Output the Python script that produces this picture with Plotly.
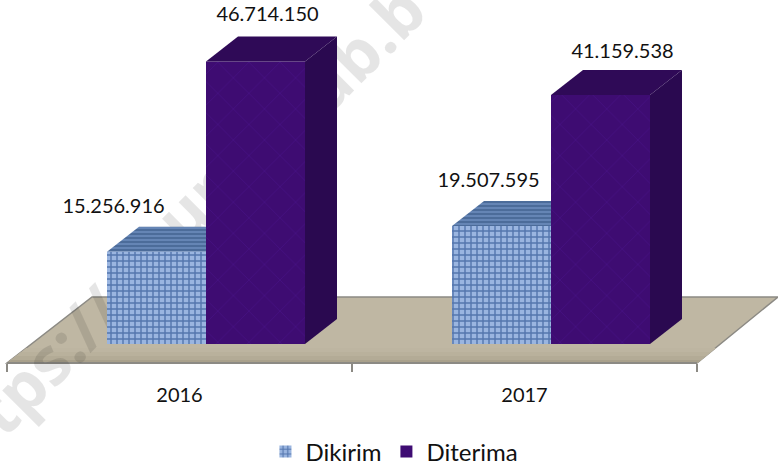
import plotly.graph_objects as go

categories = ["2016", "2017"]
dikirim = [15256916, 19507595]
diterima = [46714150, 41159538]
labels_dikirim = ["15.256.916", "19.507.595"]
labels_diterima = ["46.714.150", "41.159.538"]
watermark_bits = ["tps://r", "ur", "ab.b"]

W, H = 778, 465
PLOT_BOTTOM = 363
BASE_PX = 344
PX_PER_VALUE = 6.05e-6
X0_PX, UNIT_PX = 7, 345
DEPTH_X, DEPTH_Y = 32, 25
BAR_W = 99


def xd(px):
    return (px - X0_PX) / UNIT_PX


def yd(px):
    return (BASE_PX - px) / PX_PER_VALUE


def dx(px):
    return px / UNIT_PX


def dy(px):
    return px / PX_PER_VALUE


def px(p):
    return p / W


def py(p):
    return (PLOT_BOTTOM - p) / PLOT_BOTTOM


centers = [0.5, 1.5]
off_a = xd(107) - 0.5
off_b = xd(206) - 0.5
bw = dx(BAR_W)

fig = go.Figure()

floor_pts = [(7, 363), (697, 363), (778, 297), (92, 297)]


def path(pts):
    return "M " + " L ".join(f"{px(a)},{py(b)}" for a, b in pts) + " Z"


fig.add_shape(type="path", xref="paper", yref="paper", path=path(floor_pts), fillcolor="#BFB7A3",
              line=dict(color="#8C8A84", width=1.5), layer="below")
for top, col in [(348, "#BDB5A1"), (352, "#B9B19C"), (356, "#B3AB96"), (360, "#A9A18C")]:
    t = (363 - top) / 66 * 85
    fig.add_shape(type="path", xref="paper", yref="paper",
                  path=path([(7 + t, top), (697 + t, top), (697, 363), (7, 363)]),
                  fillcolor=col, line=dict(width=0), layer="below")
fig.add_shape(type="line", xref="paper", yref="paper", x0=px(7), x1=px(697), y0=py(363), y1=py(363),
              line=dict(color="#8C8A84", width=2), layer="below")

# faint diagonal watermark fragments above the floor, behind the bars
for txt, (cx, cy) in zip(watermark_bits, [(62, 352), (195, 207), (365, 50)]):
    fig.add_shape(type="line", xref="paper", yref="paper",
                  x0=px(cx - 60), x1=px(cx + 60), y0=py(cy + 60), y1=py(cy - 60),
                  line=dict(width=0), layer="below",
                  label=dict(text=txt, textangle=-45, textposition="middle", yanchor="middle",
                             font=dict(family="Open Sans", size=66, weight="bold", color="rgba(0,0,0,0.10)")))

fig.add_trace(go.Bar(name="Dikirim", x=centers, y=dikirim, offset=off_a, width=bw,
                     marker=dict(color="#8AA9D9", line=dict(width=0),
                                 pattern=dict(shape="+", size=6, solidity=0.42,
                                              fgcolor="#5476AE", bgcolor="#9AB5E0", fillmode="replace"))))
fig.add_trace(go.Bar(name="Diterima", x=centers, y=diterima, offset=off_b, width=bw,
                     marker=dict(color="#3F0D75", line=dict(width=0),
                                 pattern=dict(shape="x", size=22, solidity=0.08,
                                              fgcolor="#441080", bgcolor="#3E0C72", fillmode="replace"))))

for i, c in enumerate(centers):
    v = dikirim[i]
    l = c + off_a
    r = c + off_b
    fig.add_trace(go.Scatter(
        x=[l, l + dx(DEPTH_X), r, r, l], y=[v, v + dy(DEPTH_Y), v + dy(DEPTH_Y), v, v],
        mode="lines", fill="toself", line=dict(width=0), fillcolor="#4F709F",
        fillpattern=dict(shape="-", size=4, solidity=0.35, fgcolor="#41618F", bgcolor="#6585B5", fillmode="replace"),
        showlegend=False, hoverinfo="skip"))
    v = diterima[i]
    l = c + off_b
    r = l + bw
    fig.add_trace(go.Scatter(
        x=[l, l + dx(DEPTH_X), r + dx(DEPTH_X), r, l], y=[v, v + dy(DEPTH_Y), v + dy(DEPTH_Y), v, v],
        mode="lines", fill="toself", line=dict(width=0), fillcolor="#2F0A57",
        showlegend=False, hoverinfo="skip"))
    fig.add_trace(go.Scatter(
        x=[r, r + dx(DEPTH_X), r + dx(DEPTH_X), r, r],
        y=[v, v + dy(DEPTH_Y), dy(DEPTH_Y), 0, v],
        mode="lines", fill="toself", line=dict(width=0), fillcolor="#2A0950",
        showlegend=False, hoverinfo="skip"))

off_x_a, off_x_b = [-43, -13], [12, 22]
off_y = [44, 45, 44, 42]
tx, ty, tt = [], [], []
for i, c in enumerate(centers):
    tx.append(c + off_a + bw / 2 + dx(off_x_a[i]))
    ty.append(dikirim[i] + dy(off_y[2 * i]))
    tt.append(labels_dikirim[i])
    tx.append(c + off_b + bw / 2 + dx(off_x_b[i]))
    ty.append(diterima[i] + dy(off_y[2 * i + 1]))
    tt.append(labels_diterima[i])
fig.add_trace(go.Scatter(x=tx, y=ty, text=tt, mode="text", textposition="middle center",
                         textfont=dict(family="Lato", size=20, color="#111111"),
                         showlegend=False, hoverinfo="skip"))

fig.update_layout(
    width=W, height=H, margin=dict(l=0, r=0, t=0, b=H - PLOT_BOTTOM),
    paper_bgcolor="white", plot_bgcolor="rgba(0,0,0,0)", barmode="overlay", showlegend=True,
    font=dict(family="Lato", color="#111111"),
    legend=dict(orientation="h", x=0.507, y=0.028, yref="container", xanchor="center", yanchor="middle",
                font=dict(family="Lato", size=24), itemwidth=30, traceorder="normal",
                bgcolor="rgba(0,0,0,0)"),
    xaxis=dict(range=[xd(0), xd(W)], tickmode="array", tickvals=centers, ticktext=categories,
               ticks="", ticklen=0, tickfont=dict(family="Lato", size=20, color="#111111"),
               ticklabelstandoff=18, showgrid=False, zeroline=False, automargin=False,
               showline=False,
               minor=dict(tickmode="array", tickvals=[0, 1, 2], ticks="outside", ticklen=8,
                          tickwidth=1.5, tickcolor="#8C8A84", showgrid=False)),
    yaxis=dict(range=[yd(PLOT_BOTTOM), yd(0)], visible=False, showgrid=False, zeroline=False),
)

fig.write_html("out.html", post_script="document.body.style.margin='0';",
               config={"displayModeBar": False})
